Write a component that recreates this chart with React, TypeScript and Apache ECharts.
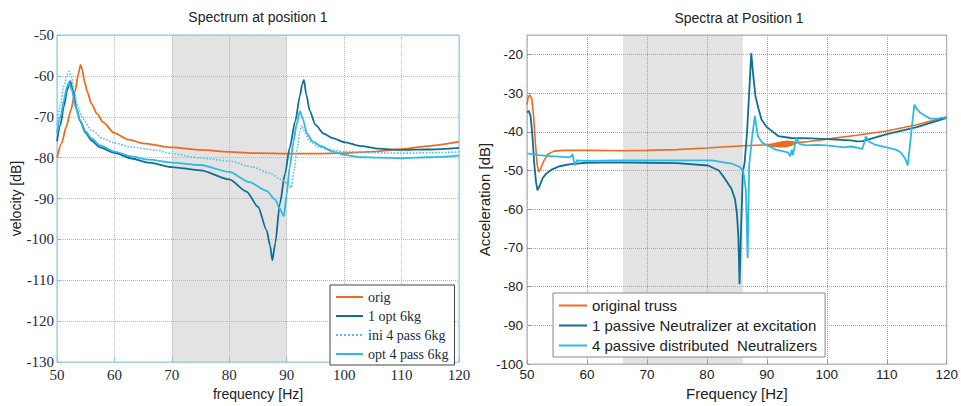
import React, { useEffect, useRef } from "react";
import * as echarts from "echarts";

// ---- Left panel: velocity spectrum at position 1 ----
const origF = [50, 50.8, 51.6, 52.4, 53.2, 53.7, 54.1, 54.4, 54.8, 55.3, 56, 57, 58, 60, 62.5, 65, 70, 75, 80, 85, 90, 95, 100, 105, 110, 115, 120];
const origV = [-80, -76.5, -72.5, -68.5, -63.5, -59.5, -57.3, -58.5, -61.5, -64, -66.8, -69.3, -71.3, -74, -75.6, -76.5, -77.5, -78.1, -78.6, -78.9, -79, -79, -78.9, -78.5, -77.9, -77.1, -76.1];

const opt1F = [50, 50.6, 51.2, 51.8, 52.3, 52.8, 53.4, 54, 55, 56, 57.5, 60, 63, 66, 70, 75, 80, 83, 85, 86.5, 87.1, 87.5, 88, 88.8, 89.7, 90.5, 91.5, 92.3, 92.7, 93.0, 93.4, 94, 95, 96.5, 98, 100, 103, 106, 110, 115, 120];
const opt1V = [-76, -72, -67.5, -63.3, -61.3, -63.5, -68, -71, -74, -75.8, -77.5, -78.8, -80.2, -81.2, -82.3, -83.1, -85.3, -88.3, -92, -97.7, -101.5, -105.1, -101, -91.3, -84, -77.7, -71, -64.9, -62, -61.0, -64.5, -68.5, -72, -74.2, -75.2, -76.2, -77.2, -77.8, -78.1, -78, -77.6];

const ini4F = [50, 50.6, 51.2, 51.7, 52.1, 52.5, 53, 53.6, 54.5, 56, 58, 60, 63, 67, 70, 75, 80, 84, 87, 89, 90, 90.8, 91.3, 91.8, 92.3, 92.6, 93.2, 94, 95.5, 97, 100, 105, 110, 115, 120];
const ini4V = [-72, -67, -62.5, -59.8, -58.9, -60, -64, -67.5, -70.5, -73.3, -75.3, -76.4, -77.4, -78.1, -79, -80.1, -80.8, -82.3, -83.8, -85.3, -86.2, -87.3, -83, -78, -73.5, -72.1, -74, -76, -77.3, -78, -78.5, -78.8, -78.9, -78.8, -78.6];

const opt4F = [50, 50.6, 51.2, 51.7, 52.1, 52.6, 53.2, 54, 55, 56, 57.5, 60, 63, 66, 70, 75, 80, 83.5, 86.5, 88, 88.8, 89.5, 90, 90.5, 91.2, 91.7, 92.3, 92.8, 93.5, 94.5, 96, 98, 100, 103, 106, 110, 115, 120];
const opt4V = [-74, -70, -66, -62.8, -61.6, -63.5, -67.5, -70.8, -73.6, -75.3, -77, -78.5, -79.7, -80.5, -81.2, -81.8, -83.5, -86, -88.1, -90.3, -92.5, -94.3, -89, -82.5, -76, -72, -68.6, -70.5, -74, -76, -77.2, -78.5, -79.3, -79.9, -80, -80.1, -79.9, -79.5];

// ---- Right panel: acceleration spectra at position 1 ----
// the original truss response beats rapidly between roughly 90 and 95 Hz
const trussF = [50, 50.2, 50.5, 50.8, 51.1, 51.4, 51.7, 51.95, 52.3, 52.8, 53.5, 54.5, 56, 60, 66, 70, 75, 80, 86, 89.5,
  90.0, 90.15, 90.3, 90.45, 90.6, 90.75, 90.9, 91.05, 91.2, 91.35, 91.5, 91.65, 91.8, 91.95, 92.1, 92.25, 92.4, 92.55,
  92.7, 92.85, 93.0, 93.15, 93.3, 93.45, 93.6, 93.75, 93.9, 94.05, 94.2, 94.35, 94.5, 94.65, 94.8, 94.95, 95.1, 95.3,
  97, 98, 100, 105, 110, 115, 120];
const trussV = [-33, -31, -30.5, -31.5, -36, -43, -48.5, -50.4, -49.5, -47.5, -45.8, -45, -44.8, -44.8, -44.9, -44.8, -44.6, -44.2, -43.6, -43.4,
  -43.4, -43.7, -43.2, -43.8, -43.1, -43.8, -43.0, -43.9, -42.9, -43.9, -42.8, -43.9, -42.7, -44.0, -42.6, -44.0, -42.5, -44.0,
  -42.4, -44.0, -42.4, -44.0, -42.3, -43.9, -42.3, -43.8, -42.4, -43.6, -42.4, -43.4, -42.5, -43.2, -42.6, -43.0, -42.7, -42.8,
  -42.5, -42.3, -41.9, -40.9, -39.8, -38.2, -36.1];

const exciteF = [50, 50.3, 50.6, 50.9, 51.2, 51.5, 51.75, 52.1, 52.6, 53.2, 54.2, 55.4, 57, 59.8, 65, 70, 75, 80.2, 82, 83, 84.1, 84.7, 85.0, 85.25, 85.45, 85.7, 86.0, 86.3, 86.7, 87.1, 87.4, 87.7, 88.1, 88.6, 89.1, 90, 91.9, 94, 97.4, 100, 104, 105, 106, 110, 115, 120];
const exciteV = [-35, -34.6, -36, -41, -48, -53, -55.1, -54, -52, -50.8, -49.7, -48.9, -48.4, -48, -47.9, -48, -48.1, -48.7, -50, -52.1, -54.7, -57.5, -61, -67, -79.4, -65, -50.4, -47.9, -40, -28.5, -19.7, -25, -30.8, -34, -36.8, -38.8, -41.1, -41.6, -41.7, -41.9, -42.2, -42.5, -42.4, -40.6, -38.8, -36.4];

const distF = [50, 52, 54, 56, 57.1, 57.45, 57.6, 57.8, 57.95, 58.3, 60, 65, 70, 75, 80.8, 84.1, 85.5, 86.05, 86.5, 86.8, 87.05, 87.5, 88.0, 88.5, 89.2, 90.2, 91.5, 93.5, 93.9, 94.15, 94.35, 94.9, 95.5, 96.5, 98.4, 100, 102.9, 104, 105.5, 105.9, 106.2, 106.5, 107, 108, 110, 111.5, 112.3, 113.1, 113.5, 113.9, 114.2, 114.6, 115.1, 115.6, 117.2, 118.5, 120];
const distV = [-45.6, -46, -46.3, -46.5, -46.6, -46.2, -45.7, -47.5, -48.7, -47.4, -47.5, -47.4, -47.4, -47.4, -47.4, -48.2, -49.1, -50, -55, -72.6, -48.7, -41.9, -35.9, -41.1, -42.8, -43.6, -44.6, -45.3, -46.3, -44.6, -46, -41.5, -43.2, -43.5, -43.4, -43.5, -44, -43.8, -44.2, -44.5, -43, -41.2, -42.5, -43.3, -44, -44.6, -45.3, -47, -48.7, -43, -38.5, -33.0, -34.3, -35.1, -36.6, -36.6, -36.3];

const freqTicks = { min: 50, max: 120, interval: 10 };
const velocityRange = { min: -130, max: -50, interval: 10 };
const accelRange = { min: -100, max: -15, interval: 10 };
const leftBand = [70, 90];
const rightBand = [66, 86];

const ORANGE = "#ec6b1f";
const DARK = "#0f6e95";
const LIGHT = "#2db8e6";

const SERIF = "'Liberation Serif', 'Times New Roman', serif";
const SANS = "'Liberation Sans', Arial, sans-serif";

const pairs = (f: number[], v: number[]) => f.map((x, i) => [x, v[i]]);

export default function App() {
  const ref = useRef<HTMLDivElement>(null);

  useEffect(() => {
    if (!ref.current) return;
    const chart = echarts.init(ref.current, undefined, { renderer: "svg" });

    const line = (
      name: string,
      idx: number,
      data: number[][],
      color: string,
      opts: { smooth?: number | boolean; dotted?: boolean; width?: number } = {}
    ) => ({
      name,
      type: "line",
      xAxisIndex: idx,
      yAxisIndex: idx,
      data,
      symbol: "none",
      showSymbol: false,
      smooth: opts.smooth ?? 0.25,
      smoothMonotone: "x",
      clip: true,
      lineStyle: { color, width: opts.width ?? 1.8, type: opts.dotted ? "dotted" : "solid" },
      itemStyle: { color },
    });

    const band = (range: number[]) => ({
      silent: true,
      itemStyle: { color: "rgba(170,170,170,0.33)" },
      data: [[{ xAxis: range[0] }, { xAxis: range[1] }]],
    });

    // legend entries show only the line sample, no marker
    const hiddenMarker = { opacity: 0, borderWidth: 0 };

    chart.setOption({
      animation: false,
      title: [
        {
          text: "Spectrum at position 1",
          left: 258,
          top: 10,
          padding: 0,
          textAlign: "center",
          textStyle: { fontFamily: SANS, fontSize: 14, fontWeight: "normal", color: "#222" },
        },
        {
          text: "Spectra at Position 1",
          left: 739,
          top: 11,
          padding: 0,
          textAlign: "center",
          textStyle: { fontFamily: SANS, fontSize: 14, fontWeight: "normal", color: "#222" },
        },
      ],
      grid: [
        {
          left: 57,
          top: 35,
          width: 402,
          height: 333,
          show: true,
          borderColor: "#7fc3dd",
          borderWidth: 1,
          backgroundColor: "transparent",
        },
        {
          left: 527,
          top: 35,
          width: 423,
          height: 332,
          show: true,
          borderColor: "#a8a8a8",
          borderWidth: 1,
          backgroundColor: "transparent",
        },
      ],
      xAxis: [
        {
          gridIndex: 0,
          type: "value",
          ...freqTicks,
          name: "frequency [Hz]",
          nameLocation: "middle",
          nameGap: 21,
          nameTextStyle: { fontFamily: SANS, fontSize: 14, color: "#222" },
          axisLine: { show: false },
          axisTick: { show: true, inside: true, length: 4, lineStyle: { color: "#7fc3dd" } },
          axisLabel: { fontFamily: SERIF, fontSize: 15, color: "#1c2a3a", margin: 5 },
          splitLine: { show: true, lineStyle: { type: "dotted", color: "#8ccbe2", width: 1 } },
        },
        {
          gridIndex: 1,
          type: "value",
          ...freqTicks,
          name: "Frequency [Hz]",
          nameLocation: "middle",
          nameGap: 19,
          nameTextStyle: { fontFamily: SANS, fontSize: 15, color: "#222" },
          axisLine: { show: false },
          axisTick: { show: true, inside: true, length: 4, lineStyle: { color: "#999" } },
          axisLabel: { fontFamily: SANS, fontSize: 13.5, color: "#222", margin: 3 },
          splitLine: { show: true, lineStyle: { type: "dotted", color: "#a8a8a8", width: 1 } },
        },
      ],
      yAxis: [
        {
          gridIndex: 0,
          type: "value",
          ...velocityRange,
          name: "velocity [dB]",
          nameLocation: "middle",
          nameGap: 34,
          nameTextStyle: { fontFamily: SANS, fontSize: 14, color: "#222" },
          axisLine: { show: false },
          axisTick: { show: true, inside: true, length: 4, lineStyle: { color: "#7fc3dd" } },
          axisLabel: { fontFamily: SERIF, fontSize: 15, color: "#1c2a3a", margin: 3 },
          splitLine: { show: true, lineStyle: { type: "dotted", color: "#8ccbe2", width: 1 } },
        },
        {
          gridIndex: 1,
          type: "value",
          ...accelRange,
          name: "Acceleration [dB]",
          nameLocation: "middle",
          nameGap: 33,
          nameTextStyle: { fontFamily: SANS, fontSize: 15, color: "#222" },
          axisLine: { show: false },
          axisTick: { show: true, inside: true, length: 4, lineStyle: { color: "#999" } },
          axisLabel: { fontFamily: SANS, fontSize: 13.5, color: "#222", margin: 4, showMaxLabel: false },
          splitLine: { show: true, lineStyle: { type: "dotted", color: "#a8a8a8", width: 1 } },
        },
      ],
      legend: [
        {
          data: ["orig", "1 opt 6kg", "ini 4 pass 6kg", "opt 4 pass 6kg"],
          orient: "vertical",
          left: 330,
          top: 285,
          padding: [5, 6, 4, 5],
          itemWidth: 27,
          itemHeight: 14,
          itemGap: 5,
          borderColor: "#444",
          borderWidth: 1,
          backgroundColor: "#fff",
          selectedMode: false,
          itemStyle: hiddenMarker,
          textStyle: { fontFamily: SERIF, fontSize: 14, color: "#1c2a3a" },
        },
        {
          data: ["original truss", "1 passive Neutralizer at excitation", "4 passive distributed  Neutralizers"],
          orient: "vertical",
          left: 553,
          top: 293,
          padding: [5, 8, 4, 5],
          itemWidth: 28,
          itemHeight: 14,
          itemGap: 5,
          borderColor: "#888",
          borderWidth: 1,
          backgroundColor: "#fff",
          selectedMode: false,
          itemStyle: hiddenMarker,
          textStyle: { fontFamily: SANS, fontSize: 15, color: "#222" },
        },
      ],
      series: [
        { ...line("orig", 0, pairs(origF, origV), ORANGE), markArea: band(leftBand) },
        line("1 opt 6kg", 0, pairs(opt1F, opt1V), DARK),
        line("ini 4 pass 6kg", 0, pairs(ini4F, ini4V), "#52c2ea", { dotted: true, width: 1.6 }),
        line("opt 4 pass 6kg", 0, pairs(opt4F, opt4V), LIGHT),
        { ...line("original truss", 1, pairs(trussF, trussV), ORANGE, { smooth: false, width: 1.6 }), markArea: band(rightBand) },
        line("1 passive Neutralizer at excitation", 1, pairs(exciteF, exciteV), DARK, { smooth: false }),
        line("4 passive distributed  Neutralizers", 1, pairs(distF, distV), LIGHT, { smooth: false }),
      ],
    });

    return () => chart.dispose();
  }, []);

  return (
    <div
      ref={ref}
      style={{ position: "absolute", left: 0, top: 0, width: 961, height: 406, background: "#fff" }}
    />
  );
}
